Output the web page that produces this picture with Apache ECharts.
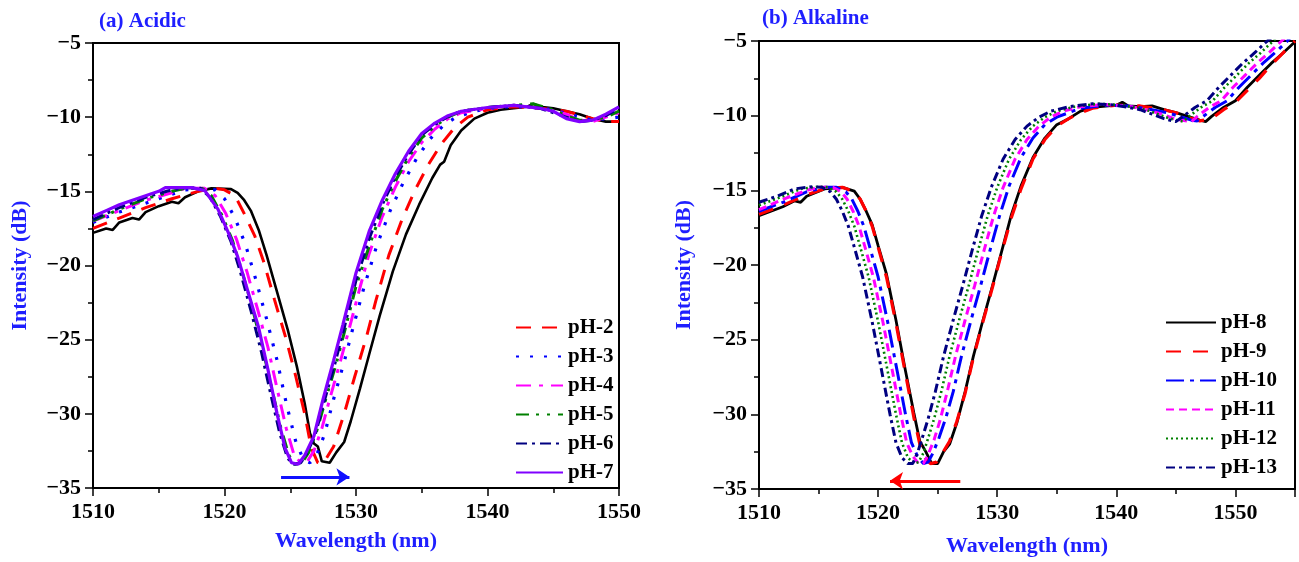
<!DOCTYPE html>
<html><head><meta charset="utf-8">
<script src="https://cdn.jsdelivr.net/npm/echarts/dist/echarts.min.js"></script>
<style>html,body{margin:0;padding:0;background:#fff}#c{width:1299px;height:562px}</style>
</head><body><div id="c"></div><script>
// ---------- Panel (a) Acidic : [wavelength nm, intensity dB] ----------
const acid_pH1 = [[1510,-17.8],[1511,-17.5],[1511.5,-17.6],[1512,-17.1],[1513,-16.8],[1513.5,-16.9],[1514,-16.4],[1515,-16.0],[1516,-15.7],[1516.5,-15.8],[1517,-15.4],[1518,-15.0],[1519,-14.8],[1520.5,-14.85],[1521,-15.1],[1521.5,-15.6],[1522,-16.3],[1522.6,-17.6],[1523.2,-19.3],[1524,-21.8],[1524.8,-24.3],[1525.5,-26.8],[1526.1,-29.3],[1526.5,-31.3],[1526.8,-32],[1527.1,-32.2],[1527.4,-33.2],[1528,-33.3],[1528.5,-32.6],[1529.1,-31.9],[1529.6,-30.5],[1530.3,-28.3],[1531,-26],[1531.8,-23.4],[1532.8,-20.4],[1533.8,-17.9],[1534.8,-15.9],[1535.8,-14.1],[1536.4,-13.2],[1536.7,-13.0],[1537.2,-11.9],[1538,-10.9],[1539,-10.1],[1540,-9.7],[1541,-9.5],[1542,-9.4],[1543,-9.3],[1543.5,-9.1],[1544,-9.3],[1545,-9.4],[1546,-9.6],[1547,-9.8],[1548,-10.1],[1549,-10.3],[1550,-10.3]];
const acid_pH2 = [[1510,-17.5],[1512,-16.8],[1514,-16.1],[1516,-15.5],[1518,-15.0],[1519.3,-14.8],[1520,-14.9],[1520.8,-15.3],[1521.5,-16.5],[1522.3,-18.0],[1523,-19.8],[1523.8,-22.3],[1524.7,-25.0],[1525.4,-27.4],[1526.1,-30],[1526.6,-32.3],[1527.1,-33.3],[1527.6,-33.2],[1528.3,-32.2],[1529.1,-30],[1529.9,-27.5],[1530.8,-24.8],[1531.5,-22.4],[1532.5,-19.3],[1533.5,-16.9],[1534.5,-14.9],[1535.5,-13.2],[1536.5,-11.8],[1537.5,-10.7],[1538.5,-10.0],[1540,-9.5],[1542,-9.3],[1544,-9.4],[1546,-9.6],[1548,-10.1],[1549,-10.3],[1550,-10.3]];
const acid_pH3 = [[1510,-17.1],[1512,-16.4],[1514,-15.8],[1516,-15.2],[1517,-14.9],[1518.5,-14.8],[1519.3,-14.9],[1520,-15.5],[1520.8,-16.8],[1521.6,-18.6],[1522.4,-21],[1523.2,-23.6],[1524,-26.4],[1524.7,-29.3],[1525.4,-31.8],[1526,-33.1],[1526.5,-33.3],[1527,-32.8],[1527.6,-31.4],[1528.3,-29],[1529.1,-26.5],[1529.8,-24.1],[1530.6,-21.5],[1531.6,-18.6],[1532.6,-16.3],[1533.6,-14.4],[1534.6,-12.8],[1535.6,-11.5],[1536.6,-10.6],[1537.6,-10.0],[1539,-9.6],[1541,-9.3],[1543,-9.3],[1545,-9.5],[1547,-10.0],[1548,-10.2],[1549,-10.1],[1550,-10.0]];
const acid_pH4 = [[1510,-17.0],[1512,-16.3],[1514,-15.6],[1516,-15.1],[1517,-14.8],[1518.5,-14.8],[1519.3,-15.3],[1520.1,-16.5],[1520.9,-18.2],[1521.7,-20.4],[1522.5,-22.9],[1523.3,-25.5],[1524,-28.3],[1524.7,-31],[1525.3,-32.8],[1525.8,-33.3],[1526.3,-33.2],[1526.8,-32.5],[1527.4,-31],[1528,-29],[1528.8,-26.5],[1529.5,-24.2],[1530.3,-21.5],[1531,-19.2],[1532,-16.7],[1533,-14.7],[1534,-13],[1535,-11.7],[1536,-10.8],[1537,-10.1],[1538,-9.7],[1540,-9.4],[1542,-9.2],[1544,-9.4],[1546,-9.8],[1547,-10.2],[1548,-10.3],[1549,-10.0],[1550,-9.7]];
const acid_pH5 = [[1510,-17.0],[1512,-16.2],[1514,-15.5],[1516,-15.0],[1517,-14.8],[1518.3,-14.8],[1519,-15.3],[1519.8,-16.6],[1520.6,-18.3],[1521.3,-20.3],[1522.1,-22.8],[1522.9,-25.6],[1523.6,-28.3],[1524.3,-31],[1524.9,-32.8],[1525.4,-33.4],[1525.9,-33.3],[1526.4,-32.6],[1527,-31.2],[1527.7,-29],[1528.5,-26.6],[1529.2,-24.2],[1530,-21.4],[1531,-18.7],[1532,-16.2],[1533,-14.3],[1534,-12.7],[1535,-11.4],[1536,-10.6],[1537,-10],[1538,-9.6],[1540,-9.35],[1542,-9.2],[1543.5,-9.1],[1545,-9.5],[1546,-9.9],[1547,-10.2],[1548,-10.2],[1549,-10],[1550,-9.6]];
const acid_pH6 = [[1510,-16.9],[1512,-16.1],[1514,-15.4],[1516,-14.9],[1517,-14.75],[1518.2,-14.8],[1518.9,-15.4],[1519.7,-16.7],[1520.5,-18.4],[1521.2,-20.4],[1522,-23],[1522.8,-25.8],[1523.5,-28.6],[1524.2,-31.3],[1524.8,-33],[1525.3,-33.4],[1525.8,-33.3],[1526.3,-32.6],[1526.9,-31.4],[1527.6,-29.1],[1528.4,-26.6],[1529.1,-24.2],[1530,-21],[1531,-18.2],[1532,-15.9],[1533,-14],[1534,-12.5],[1535,-11.2],[1536,-10.5],[1537,-9.95],[1538,-9.6],[1540,-9.35],[1542,-9.2],[1544,-9.4],[1546,-10],[1547,-10.3],[1548,-10.2],[1549,-9.9],[1550,-9.4]];
const acid_pH7 = [[1510,-16.7],[1511,-16.3],[1512,-15.9],[1513,-15.6],[1514,-15.3],[1515,-15.0],[1515.5,-14.75],[1517.5,-14.75],[1518.5,-14.95],[1519.5,-16.2],[1520.3,-17.8],[1521,-19.4],[1521.8,-21.8],[1522.6,-24.2],[1523.3,-27],[1524,-30],[1524.6,-32.3],[1525.1,-33.3],[1525.6,-33.4],[1526.1,-32.8],[1526.8,-31.5],[1527.5,-29],[1528.3,-26.4],[1529,-24],[1530,-20.5],[1531,-17.7],[1532,-15.6],[1533,-13.8],[1534,-12.3],[1535,-11.1],[1536,-10.4],[1537,-9.9],[1538,-9.6],[1540,-9.35],[1542,-9.2],[1544,-9.4],[1545,-9.6],[1546,-10.1],[1547,-10.3],[1548,-10.2],[1549,-9.8],[1550,-9.3]];

// ---------- Panel (b) Alkaline ----------
const alk_pH8 = [[1510,-16.7],[1511,-16.4],[1512,-16.1],[1513,-15.7],[1513.5,-15.8],[1514,-15.4],[1515.5,-14.9],[1517,-14.8],[1518,-15.05],[1518.5,-15.6],[1519,-16.4],[1519.5,-17.3],[1520,-18.7],[1520.7,-20.6],[1521.5,-23.7],[1522.3,-27.1],[1523,-29.9],[1523.5,-31.8],[1524,-32.5],[1524.5,-33.3],[1525,-33.3],[1525.5,-32.5],[1526,-32],[1526.6,-30.6],[1527.3,-28.5],[1528,-26.1],[1528.8,-23.7],[1529.6,-21.4],[1530.4,-19],[1531.2,-16.6],[1532,-14.7],[1533,-12.8],[1534,-11.5],[1535,-10.6],[1536,-10.2],[1537,-9.7],[1538,-9.45],[1540,-9.3],[1540.5,-9.1],[1541,-9.35],[1542,-9.4],[1543,-9.35],[1544,-9.6],[1545,-9.8],[1546,-10.05],[1547,-10.3],[1547.5,-10.4],[1548,-10.05],[1549,-9.45],[1550,-9.0],[1551,-8.1],[1552,-7.3],[1553,-6.5],[1554,-5.8],[1555,-5.05]];
const alk_pH9 = [[1510,-16.6],[1512,-16.0],[1514,-15.3],[1515.5,-14.9],[1517,-14.8],[1518,-15.1],[1518.5,-15.6],[1519,-16.4],[1519.5,-17.4],[1520,-18.8],[1520.7,-20.8],[1521.5,-23.9],[1522.3,-27.3],[1523,-30.2],[1523.5,-32],[1524,-33],[1524.4,-33.3],[1524.9,-33.2],[1525.4,-32.6],[1526,-31.8],[1526.6,-30.5],[1527.3,-28.6],[1528,-26.2],[1528.8,-23.8],[1529.6,-21.5],[1530.4,-19.1],[1531.2,-16.8],[1532,-14.9],[1533,-12.9],[1534,-11.6],[1535,-10.7],[1536,-10.2],[1537,-9.8],[1538,-9.5],[1540,-9.3],[1542,-9.35],[1544,-9.6],[1545,-9.8],[1546,-10.1],[1547,-10.35],[1548,-10.2],[1549,-9.6],[1550,-9.1],[1551,-8.3],[1552,-7.5],[1553,-6.6],[1554,-5.8],[1555,-5.0]];
const alk_pH10 = [[1510,-16.4],[1512,-15.8],[1514,-15.1],[1515.5,-14.8],[1516.5,-14.8],[1517.3,-15.1],[1517.8,-15.6],[1518.3,-16.4],[1518.8,-17.4],[1519.3,-18.8],[1520,-20.8],[1520.8,-23.8],[1521.6,-27.1],[1522.3,-30],[1522.8,-31.9],[1523.3,-32.8],[1523.8,-33.3],[1524.2,-33.2],[1524.6,-32.6],[1525.1,-31.6],[1525.7,-30.2],[1526.3,-28.5],[1527,-26.1],[1527.8,-23.7],[1528.6,-21.4],[1529.4,-19],[1530.2,-16.7],[1531,-14.7],[1532,-12.8],[1533,-11.5],[1534,-10.6],[1535,-10.1],[1536,-9.8],[1537,-9.5],[1539,-9.3],[1541,-9.35],[1543,-9.6],[1544.3,-9.8],[1545.3,-10.05],[1546.3,-10.3],[1546.8,-10.35],[1547.3,-10.05],[1548.3,-9.45],[1549.3,-9.0],[1550.3,-8.1],[1551.3,-7.3],[1552.3,-6.5],[1553.3,-5.8],[1554.3,-5.05],[1555,-4.4]];
const alk_pH11 = [[1510,-16.3],[1512,-15.6],[1514,-15.0],[1515,-14.8],[1516.2,-14.8],[1516.9,-15.1],[1517.4,-15.6],[1517.9,-16.4],[1518.4,-17.4],[1518.9,-18.8],[1519.6,-20.8],[1520.4,-23.8],[1521.2,-27.1],[1521.9,-30],[1522.4,-31.9],[1522.9,-32.8],[1523.4,-33.3],[1523.8,-33.3],[1524.2,-32.7],[1524.7,-31.7],[1525.2,-30.4],[1525.8,-28.5],[1526.5,-26.1],[1527.3,-23.7],[1528.1,-21.4],[1528.9,-19],[1529.7,-16.7],[1530.5,-14.8],[1531.5,-12.9],[1532.5,-11.6],[1533.5,-10.7],[1534.5,-10.1],[1535.5,-9.7],[1537,-9.4],[1539,-9.25],[1541,-9.35],[1543,-9.7],[1544,-9.95],[1545,-10.25],[1546.3,-10.4],[1546.8,-10.05],[1547.8,-9.45],[1548.8,-9.0],[1549.8,-8.1],[1550.8,-7.3],[1551.8,-6.5],[1552.8,-5.8],[1553.8,-5.05],[1555,-4.2]];
const alk_pH12 = [[1510,-16.0],[1512,-15.4],[1513.5,-14.9],[1515,-14.75],[1515.8,-14.8],[1516.5,-15.1],[1517,-15.6],[1517.5,-16.4],[1518,-17.4],[1518.5,-18.8],[1519.2,-20.8],[1520,-23.8],[1520.8,-27.1],[1521.5,-30],[1522,-31.9],[1522.5,-32.9],[1523,-33.3],[1523.4,-33.2],[1523.8,-32.6],[1524.2,-31.6],[1524.7,-30.3],[1525.3,-28.5],[1526,-26.1],[1526.8,-23.7],[1527.6,-21.4],[1528.4,-19],[1529.2,-16.7],[1530,-14.8],[1531,-12.9],[1532,-11.6],[1533,-10.7],[1534,-10.1],[1535,-9.7],[1536.5,-9.4],[1538.5,-9.2],[1540.5,-9.3],[1542.5,-9.6],[1543.5,-9.9],[1544.5,-10.2],[1545.6,-10.4],[1546.1,-10.05],[1547.1,-9.45],[1548.1,-9.0],[1549.1,-8.1],[1550.1,-7.3],[1551.1,-6.5],[1552.1,-5.8],[1553.1,-5.05],[1555,-3.8]];
const alk_pH13 = [[1510,-15.8],[1511.5,-15.4],[1513,-14.9],[1514.5,-14.75],[1515.3,-14.8],[1516,-15.1],[1516.5,-15.6],[1517,-16.4],[1517.5,-17.4],[1518,-18.8],[1518.7,-20.8],[1519.5,-23.8],[1520.3,-27.1],[1521,-30],[1521.5,-31.9],[1522,-32.9],[1522.5,-33.3],[1522.9,-33.3],[1523.3,-32.6],[1523.7,-31.6],[1524.2,-30.3],[1524.8,-28.5],[1525.5,-26.1],[1526.3,-23.7],[1527.1,-21.4],[1527.9,-19],[1528.7,-16.7],[1529.5,-14.8],[1530.5,-12.9],[1531.5,-11.6],[1532.5,-10.7],[1533.5,-10.1],[1534.5,-9.7],[1536,-9.4],[1538,-9.2],[1540,-9.3],[1542,-9.6],[1543,-9.9],[1544,-10.2],[1545,-10.4],[1545.6,-10.05],[1546.6,-9.45],[1547.6,-9.0],[1548.6,-8.1],[1549.6,-7.3],[1550.6,-6.5],[1551.6,-5.8],[1552.6,-5.05],[1555,-3.5]];

// shift arrows [[x1,y1],[x2,y2]]
const arrowA = [[1524.3,-34.25],[1529.5,-34.25]];
const arrowB = [[1526.9,-34.45],[1521.0,-34.45]];

const titles = ['(a) Acidic','(b) Alkaline'];
const xName = 'Wavelength (nm)', yName = 'Intensity (dB)';

const FONT = '"Liberation Serif","Times New Roman",serif';
const BLUE = '#1f1fff';
const chart = echarts.init(document.getElementById('c'), null, {renderer:'canvas'});

function xAx(gi, max, gap){
  return {gridIndex:gi, type:'value', min:1510, max:max, interval:10,
    name:xName, nameLocation:'middle', nameGap:gap,
    nameTextStyle:{fontFamily:FONT,fontWeight:'bold',fontSize:22,color:BLUE},
    axisLine:{onZero:false,lineStyle:{color:'#000',width:2}},
    axisTick:{length:8,lineStyle:{color:'#000',width:1.5}},
    minorTick:{show:true,splitNumber:2,length:5,lineStyle:{color:'#000',width:1.5}},
    splitLine:{show:false},
    axisLabel:{fontFamily:FONT,fontWeight:'bold',fontSize:22,color:'#000',margin:13,
      showMaxLabel:max===1550, formatter:v=>String(v)}};
}
function yAx(gi, gap){
  return {gridIndex:gi, type:'value', min:-35, max:-5, interval:5,
    name:yName, nameLocation:'middle', nameGap:gap, nameRotate:90,
    nameTextStyle:{fontFamily:FONT,fontWeight:'bold',fontSize:22,color:BLUE},
    axisLine:{onZero:false,lineStyle:{color:'#000',width:2}},
    axisTick:{length:8,lineStyle:{color:'#000',width:1.5}},
    minorTick:{show:true,splitNumber:2,length:5,lineStyle:{color:'#000',width:1.5}},
    splitLine:{show:false},
    axisLabel:{fontFamily:FONT,fontWeight:'bold',fontSize:22,color:'#000',margin:12,
      formatter:v=>String(v).replace('-','\u2212')}};
}
function ln(name, data, gi, color, type, width){
  return {name, type:'line', xAxisIndex:gi, yAxisIndex:gi, data, symbol:'none',
    clip:true, smooth:false, z:3,
    lineStyle:{color, width:width||2.6, type:type||'solid', cap:'butt'},
    itemStyle:{color}};
}
function arrow(coords, gi, color){
  return {type:'lines', coordinateSystem:'cartesian2d', xAxisIndex:gi, yAxisIndex:gi,
    symbol:['none','arrow'], symbolSize:13, z:5,
    lineStyle:{color, width:3, opacity:1},
    data:[{coords}]};
}
const legText = {fontFamily:FONT,fontWeight:'bold',fontSize:21,color:'#000',lineHeight:21};
const legSym = {opacity:0, borderWidth:0};

const option = {
  animation:false,
  backgroundColor:'#fff',
  title:[
    {text:titles[0], left:94, top:6, textStyle:{fontFamily:FONT,fontWeight:'bold',fontSize:21,color:BLUE}},
    {text:titles[1], left:757, top:3, textStyle:{fontFamily:FONT,fontWeight:'bold',fontSize:21,color:BLUE}}
  ],
  grid:[
    {left:93, top:43, width:526, height:445, show:true, borderColor:'#000', borderWidth:2, backgroundColor:'transparent'},
    {left:759, top:41, width:536, height:452, show:true, borderColor:'#000', borderWidth:2, backgroundColor:'transparent'}
  ],
  xAxis:[xAx(0,1550,42), xAx(1,1555,46)],
  yAxis:[yAx(0,62), yAx(1,64)],
  legend:[
    {orient:'vertical', left:510, top:312, itemWidth:47, itemHeight:14, itemGap:8, itemStyle:legSym,
     data:['pH-2','pH-3','pH-4','pH-5','pH-6','pH-7'], textStyle:legText, selectedMode:false},
    {orient:'vertical', left:1160, top:307, itemWidth:50, itemHeight:14, itemGap:8, itemStyle:legSym,
     data:['pH-8','pH-9','pH-10','pH-11','pH-12','pH-13'], textStyle:legText, selectedMode:false}
  ],
  series:[
    ln('pH-1', acid_pH1, 0, '#000000', 'solid', 2.6),
    ln('pH-2', acid_pH2, 0, '#ff0000', [15,11], 3),
    ln('pH-3', acid_pH3, 0, '#0000ff', [3,11], 3.2),
    ln('pH-4', acid_pH4, 0, '#ff00ff', [15,8,4,8], 3),
    ln('pH-5', acid_pH5, 0, '#008000', [13,7,3,8,3,8], 3),
    ln('pH-6', acid_pH6, 0, '#000080', [11,5,3,5], 3),
    ln('pH-7', acid_pH7, 0, '#8000ff', 'solid', 3.2),
    arrow(arrowA, 0, '#1010ff'),
    ln('pH-8', alk_pH8, 1, '#000000', 'solid', 2.8),
    ln('pH-9', alk_pH9, 1, '#ff0000', [15,12], 3.2),
    ln('pH-10', alk_pH10, 1, '#0000ff', [18,6,4,6], 3),
    ln('pH-11', alk_pH11, 1, '#ff00ff', [8,5], 3),
    ln('pH-12', alk_pH12, 1, '#008000', [2,3], 2.6),
    ln('pH-13', alk_pH13, 1, '#000080', [9,4,3,4], 3),
    arrow(arrowB, 1, '#ff0000')
  ]
};
chart.setOption(option);
</script></body></html>
